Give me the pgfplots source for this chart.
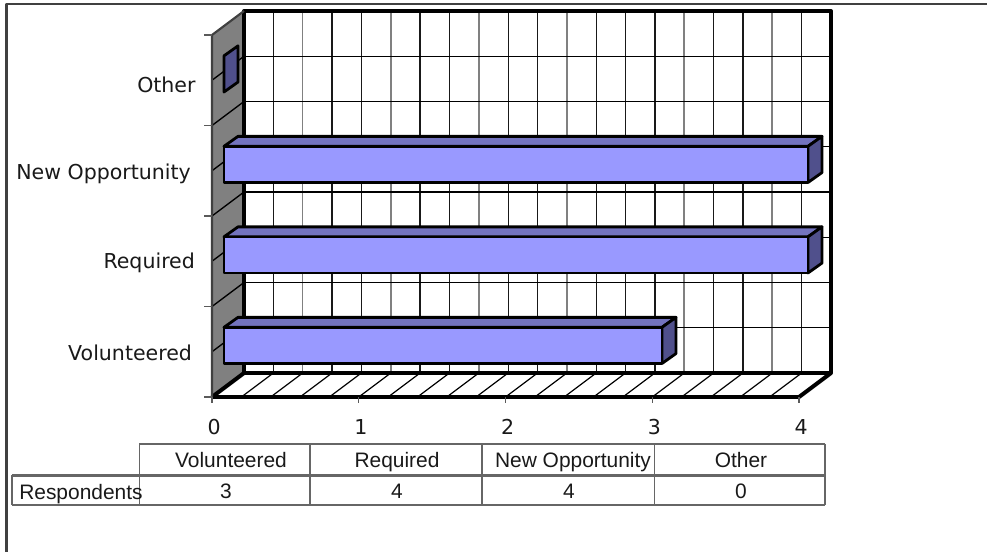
\documentclass[border=0pt]{standalone}
\usepackage{pgfplots}
\usepackage{fontspec}
\pgfplotsset{compat=1.18}
\setmainfont{DejaVu Sans}
\newfontfamily\tablefont{Liberation Sans}
\definecolor{barfront}{HTML}{9999FF}
\definecolor{bartop}{HTML}{7373BF}
\definecolor{barside}{HTML}{50508C}
\definecolor{wall}{HTML}{808080}
\definecolor{frameline}{HTML}{404040}
\definecolor{tableline}{HTML}{666666}
\pgfplotstableread{
pos value
0.5 3
1.5 4
2.5 4
3.5 0
}\respondents
\begin{document}
\begin{tikzpicture}[line join=round]
\useasboundingbox (0,0) rectangle (740.25pt,414pt);
% chart frame and data table, in a 0.75pt grid measured from the top left
\begin{scope}[x=0.75pt,y=-0.75pt,yshift=414pt]
  \draw[frameline,line width=1.9pt] (6.5,552) -- (6.5,4) -- (987,4);
  \draw[tableline,line width=1.4pt] (139,444) -- (825,444);
  \draw[tableline,line width=1.7pt] (12,475.5) -- (825,475.5);
  \draw[tableline,line width=1.1pt] (12,505) -- (825,505);
  \draw[tableline,line width=1.1pt] (12,475.5) -- (12,505);
  \foreach \x in {139.5,310,482,654.5,825}
    \draw[tableline,line width=1.1pt] (\x,444) -- (\x,505);
  \begin{scope}[every node/.style={font=\tablefont\fontsize{15.7pt}{18pt}\selectfont,text=black!90,inner sep=0pt,anchor=base}]
    \node at (231,467.5) {Volunteered};
    \node at (397,467.5) {Required};
    \node at (573,467.5) {New Opportunity};
    \node at (741,467.5) {Other};
    \node[anchor=base west] at (19,499.5) {Respondents};
    \node at (226,498.5) {3};
    \node at (397,498.5) {4};
    \node at (569,498.5) {4};
    \node at (741,498.5) {0};
  \end{scope}
\end{scope}
% walls, floor, gridlines and value axis
\begin{axis}[
  at={(159pt,116.25pt)},anchor=south west,scale only axis,
  width=440.25pt,height=271.5pt,
  xmin=0,xmax=4,ymin=0,ymax=4,clip=false,
  axis x line*=bottom,axis y line*=left,
  axis line style={draw=none},
  xtick={0,1,2,3,4},
  ytick={0.49,1.48,2.467,3.45},
  yticklabels={Volunteered\kern-1.5pt,Required\kern-3.7pt,New Opportunity\kern-0.7pt,Other\kern-4.2pt},
  major tick length=0pt,
  tick style={draw=none},
  every tick label/.append style={font=\fontsize{15.4pt}{18pt}\selectfont,text=black!90},
  xticklabel style={yshift=-13pt,xshift=1.7pt},
  yticklabel style={xshift=-13pt},
  /pgf/number format/assume math mode=true,
  unbounded coords=jump,
]
% side wall
\addplot[fill=wall,draw=none] coordinates {(0,0)(0.218,0.265)(0.218,4.265)(0,4)} --cycle;
% rulings on the side wall
\addplot[black,line width=1pt] table[row sep=\\] {
x y\\
0 0.5\\ 0.218 0.765\\ nan nan\\
0 1\\ 0.218 1.265\\ nan nan\\
0 1.5\\ 0.218 1.765\\ nan nan\\
0 2\\ 0.218 2.265\\ nan nan\\
0 2.5\\ 0.218 2.765\\ nan nan\\
0 3\\ 0.218 3.265\\ nan nan\\
0 3.5\\ 0.218 3.765\\
};
% rulings on the floor
\addplot[black,line width=0.9pt] table[row sep=\\] {
x y\\
0.2 0\\ 0.418 0.265\\ nan nan\\
0.4 0\\ 0.618 0.265\\ nan nan\\
0.6 0\\ 0.818 0.265\\ nan nan\\
0.8 0\\ 1.018 0.265\\ nan nan\\
1.0 0\\ 1.218 0.265\\ nan nan\\
1.2 0\\ 1.418 0.265\\ nan nan\\
1.4 0\\ 1.618 0.265\\ nan nan\\
1.6 0\\ 1.818 0.265\\ nan nan\\
1.8 0\\ 2.018 0.265\\ nan nan\\
2.0 0\\ 2.218 0.265\\ nan nan\\
2.2 0\\ 2.418 0.265\\ nan nan\\
2.4 0\\ 2.618 0.265\\ nan nan\\
2.6 0\\ 2.818 0.265\\ nan nan\\
2.8 0\\ 3.018 0.265\\ nan nan\\
3.0 0\\ 3.218 0.265\\ nan nan\\
3.2 0\\ 3.418 0.265\\ nan nan\\
3.4 0\\ 3.618 0.265\\ nan nan\\
3.6 0\\ 3.818 0.265\\ nan nan\\
3.8 0\\ 4.018 0.265\\
};
% back wall, lighter verticals
\addplot[black!50,line width=1.2pt] table[row sep=\\] {
x y\\
0.618 0.265\\ 0.618 4.265\\ nan nan\\
1.218 0.265\\ 1.218 4.265\\ nan nan\\
1.818 0.265\\ 1.818 4.265\\ nan nan\\
2.418 0.265\\ 2.418 4.265\\ nan nan\\
3.218 0.265\\ 3.218 4.265\\ nan nan\\
3.818 0.265\\ 3.818 4.265\\
};
% back wall, darker verticals
\addplot[black!90,line width=0.95pt] table[row sep=\\] {
x y\\
0.418 0.265\\ 0.418 4.265\\ nan nan\\
0.818 0.265\\ 0.818 4.265\\ nan nan\\
1.018 0.265\\ 1.018 4.265\\ nan nan\\
1.418 0.265\\ 1.418 4.265\\ nan nan\\
1.618 0.265\\ 1.618 4.265\\ nan nan\\
2.018 0.265\\ 2.018 4.265\\ nan nan\\
2.218 0.265\\ 2.218 4.265\\ nan nan\\
2.618 0.265\\ 2.618 4.265\\ nan nan\\
2.818 0.265\\ 2.818 4.265\\ nan nan\\
3.018 0.265\\ 3.018 4.265\\ nan nan\\
3.418 0.265\\ 3.418 4.265\\ nan nan\\
3.618 0.265\\ 3.618 4.265\\ nan nan\\
4.018 0.265\\ 4.018 4.265\\
};
% back wall horizontals
\addplot[black,line width=0.95pt] table[row sep=\\] {
x y\\
0.218 0.765\\ 4.218 0.765\\ nan nan\\
0.218 1.265\\ 4.218 1.265\\ nan nan\\
0.218 1.765\\ 4.218 1.765\\ nan nan\\
0.218 2.265\\ 4.218 2.265\\ nan nan\\
0.218 2.765\\ 4.218 2.765\\ nan nan\\
0.218 3.265\\ 4.218 3.265\\ nan nan\\
0.218 3.765\\ 4.218 3.765\\
};
% heavy outlines
\addplot[black,line width=3pt] coordinates {(0.218,0.265)(0.218,4.265)(4.218,4.265)(4.218,0.265)} --cycle;
\addplot[black,line width=3pt] coordinates {(0,0)(0.218,0.265)};
\addplot[black,line width=3pt] coordinates {(4,0)(4.218,0.265)};
\addplot[black,line width=2.6pt] coordinates {(0,0)(4,0)};
\addplot[frameline,line width=1.6pt] coordinates {(0,0)(0,4)(0.218,4.265)};
% tick marks
\addplot[wall!70!black,line width=1.1pt] table[row sep=\\] {
x y\\
0 0\\ 0 -0.065\\ nan nan\\
1 0\\ 1 -0.065\\ nan nan\\
2 0\\ 2 -0.065\\ nan nan\\
3 0\\ 3 -0.065\\ nan nan\\
4 0\\ 4 -0.065\\ nan nan\\
0 0\\ -0.055 0\\ nan nan\\
0 1\\ -0.055 1\\ nan nan\\
0 2\\ -0.055 2\\ nan nan\\
0 3\\ -0.055 3\\ nan nan\\
0 4\\ -0.055 4\\
};
\end{axis}
% bars: their plane sits part way into the depth of the chart
\begin{axis}[
  at={(168pt,121pt)},anchor=south west,scale only axis,
  width=438pt,height=271.5pt,
  xmin=0,xmax=4,ymin=0,ymax=4,clip=false,
  hide axis,
]
% upper and end faces
\addplot[fill=bartop,draw=black,line width=2.1pt] coordinates {(0,0.7)(0.0959,0.81)(3.0959,0.81)(3,0.7)} --cycle;
\addplot[fill=barside,draw=black,line width=2.1pt] coordinates {(3,0.3)(3.0959,0.41)(3.0959,0.81)(3,0.7)} --cycle;
\addplot[fill=bartop,draw=black,line width=2.1pt] coordinates {(0,1.7)(0.0959,1.81)(4.0959,1.81)(4,1.7)} --cycle;
\addplot[fill=barside,draw=black,line width=2.1pt] coordinates {(4,1.3)(4.0959,1.41)(4.0959,1.81)(4,1.7)} --cycle;
\addplot[fill=bartop,draw=black,line width=2.1pt] coordinates {(0,2.7)(0.0959,2.81)(4.0959,2.81)(4,2.7)} --cycle;
\addplot[fill=barside,draw=black,line width=2.1pt] coordinates {(4,2.3)(4.0959,2.41)(4.0959,2.81)(4,2.7)} --cycle;
\addplot[fill=barside,draw=black,line width=2.1pt] coordinates {(0,3.3)(0.0959,3.41)(0.0959,3.81)(0,3.7)} --cycle;
% front faces
\addplot[xbar,bar width=27pt,fill=barfront,draw=black,line width=2.1pt] table[x=value,y=pos] {\respondents};
\end{axis}
\end{tikzpicture}
\end{document}
